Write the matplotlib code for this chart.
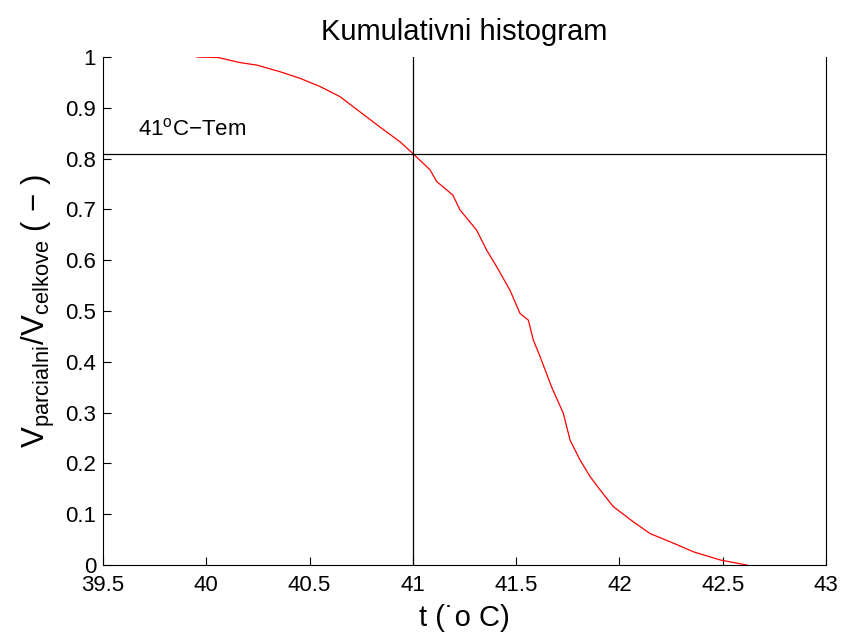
import numpy as np
import matplotlib.pyplot as plt

plt.rcParams['font.family'] = ['Liberation Sans', 'DejaVu Sans']
plt.rcParams['mathtext.fontset'] = 'custom'
plt.rcParams['mathtext.rm'] = 'Liberation Sans'
plt.rcParams['mathtext.it'] = 'Liberation Sans:italic'

# odectene body krivky (teplota, podil objemu)
t = [39.955, 40.057, 40.163, 40.245, 40.357, 40.454, 40.550, 40.647,
     40.744, 40.841, 40.938, 41.0, 41.083, 41.115, 41.194, 41.228,
     41.309, 41.357, 41.406, 41.470, 41.519, 41.559, 41.583, 41.616,
     41.672, 41.728, 41.761, 41.809, 41.858, 41.906, 41.970, 42.067,
     42.148, 42.261, 42.358, 42.487, 42.616]
podil = [1.0, 0.999, 0.989, 0.984, 0.971, 0.958, 0.942, 0.922,
         0.892, 0.862, 0.833, 0.81, 0.778, 0.755, 0.728, 0.699,
         0.659, 0.620, 0.587, 0.541, 0.495, 0.482, 0.443, 0.410,
         0.350, 0.299, 0.246, 0.207, 0.174, 0.148, 0.115, 0.085,
         0.062, 0.043, 0.026, 0.010, 0.0]

t_mez = 41.0
podil_mez = 0.81

xticks = [39.5, 40, 40.5, 41, 41.5, 42, 42.5, 43]
yticks = [0, 0.1, 0.2, 0.3, 0.4, 0.5, 0.6, 0.7, 0.8, 0.9, 1]

fig = plt.figure(figsize=(8.41, 6.37), dpi=100)
ax = fig.add_axes([103 / 841, 1 - 565 / 637, 723 / 841, 508 / 637])

ax.plot(t, podil, color='red', lw=0.9)
ax.axvline(t_mez, color='black', lw=0.9)
ax.axhline(podil_mez, color='black', lw=0.9)
ax.text(39.67, 0.845, '41$^{\\mathrm{o}}$C\u2212Tem', fontsize=16)

ax.set_xlim(39.5, 43)
ax.set_ylim(0, 1)
ax.set_xticks(xticks)
ax.set_xticklabels(['39.5', '40', '40.5', '41', '41.5', '42', '42.5', '43'])
ax.set_yticks(yticks)
ax.set_yticklabels(['0', '0.1', '0.2', '0.3', '0.4', '0.5', '0.6', '0.7', '0.8', '0.9', '1'])
ax.tick_params(direction='in', length=6, labelsize=16, width=0.8)
ax.tick_params(axis='x', pad=7)
ax.tick_params(axis='y', pad=5)
ax.spines['top'].set_visible(False)
for s in ax.spines.values():
    s.set_linewidth(0.8)

ax.set_title('Kumulativni histogram', fontsize=21, pad=12)
ax.set_xlabel('t (\u02d9o C)', fontsize=21, labelpad=6)
ax.set_ylabel('V$_{\\mathrm{parcialni}}$/V$_{\\mathrm{celkove}}$ ( \u2212 )', fontsize=22.5, labelpad=6)

fig.savefig('out.png', dpi=100)
